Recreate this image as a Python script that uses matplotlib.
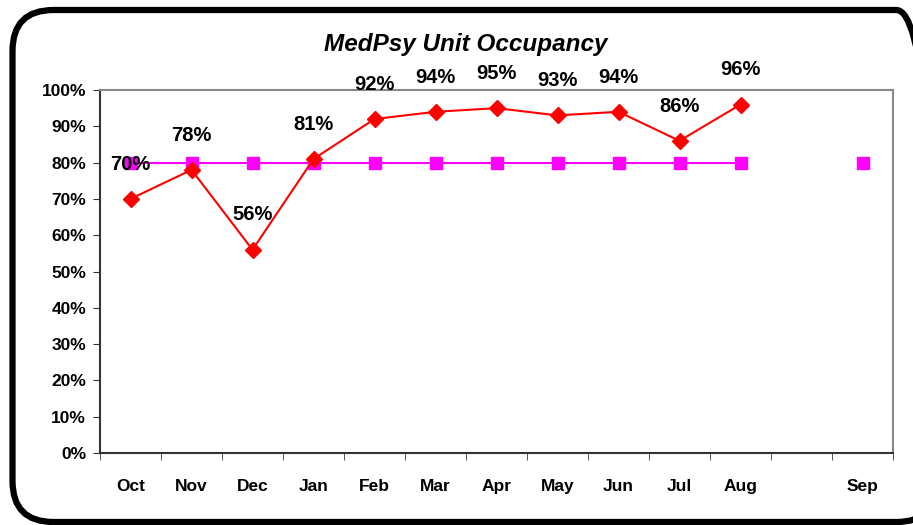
import matplotlib.pyplot as plt
from matplotlib.patches import FancyBboxPatch
import numpy as np

months = ['Oct', 'Nov', 'Dec', 'Jan', 'Feb', 'Mar', 'Apr', 'May', 'Jun', 'Jul', 'Aug', '', 'Sep']
occupancy = [70, 78, 56, 81, 92, 94, 95, 93, 94, 86, 96, np.nan, np.nan]
target = [80, 80, 80, 80, 80, 80, 80, 80, 80, 80, 80, np.nan, 80]
y_ticks = [0, 10, 20, 30, 40, 50, 60, 70, 80, 90, 100]

plt.rcParams['font.family'] = ['Liberation Sans', 'DejaVu Sans']

fig = plt.figure(figsize=(9.13, 5.25), dpi=100)
ax = fig.add_axes([100 / 913, 1 - 453 / 525, 793 / 913, 363 / 525])

# rounded outer frame (right side runs off the image)
frame = FancyBboxPatch((12.5 / 913, 3 / 525), 925 / 913, 512 / 525,
                       boxstyle="round,pad=0,rounding_size=0.045",
                       transform=fig.transFigure, fill=False,
                       edgecolor='black', linewidth=4.5, clip_on=False,
                       mutation_aspect=913 / 525)
fig.patches.append(frame)

x = np.arange(len(months))
ax.plot(x, target, color='#FF00FF', linewidth=1.5, marker='s', markersize=8,
        markeredgecolor='#FF00FF', zorder=2)
ax.plot(x, occupancy, color='#FF0000', linewidth=1.5, marker='D', markersize=8,
        markeredgecolor='#FF0000', zorder=3)

for xi, v in zip(x, occupancy):
    if not np.isnan(v):
        ax.annotate(f'{v:.0f}%', (xi, v), xytext=(0, 25), textcoords='offset points',
                    ha='center', va='center', fontsize=14.5, fontweight='bold', zorder=5)

ax.set_xlim(-0.5, len(months) - 0.5)
ax.set_ylim(0, 100)
ax.set_yticks(y_ticks)
ax.set_yticklabels([f'{t}%' for t in y_ticks], fontsize=12.5, fontweight='bold')
ax.set_xticks(x)
ax.set_xticklabels(months, fontsize=12.5, fontweight='bold')
ax.set_xticks(np.arange(-0.5, len(months)), minor=True)
ax.tick_params(axis='x', which='major', length=0, pad=19)
ax.tick_params(axis='x', which='minor', length=5, direction='out', color='#333333')
ax.tick_params(axis='y', length=5, direction='out', pad=5, color='#333333')

for side in ['left', 'bottom']:
    ax.spines[side].set_color('#333333')
    ax.spines[side].set_linewidth(1.5)
for side in ['top', 'right']:
    ax.spines[side].set_color('#888888')
    ax.spines[side].set_linewidth(1.5)

# title is centred on the whole chart area, not the plot area
ax.set_title('MedPsy Unit Occupancy', fontsize=17.5, fontweight='bold', style='italic',
             pad=28, x=(466 - 100) / 793)

fig.savefig('out.png', dpi=100)
